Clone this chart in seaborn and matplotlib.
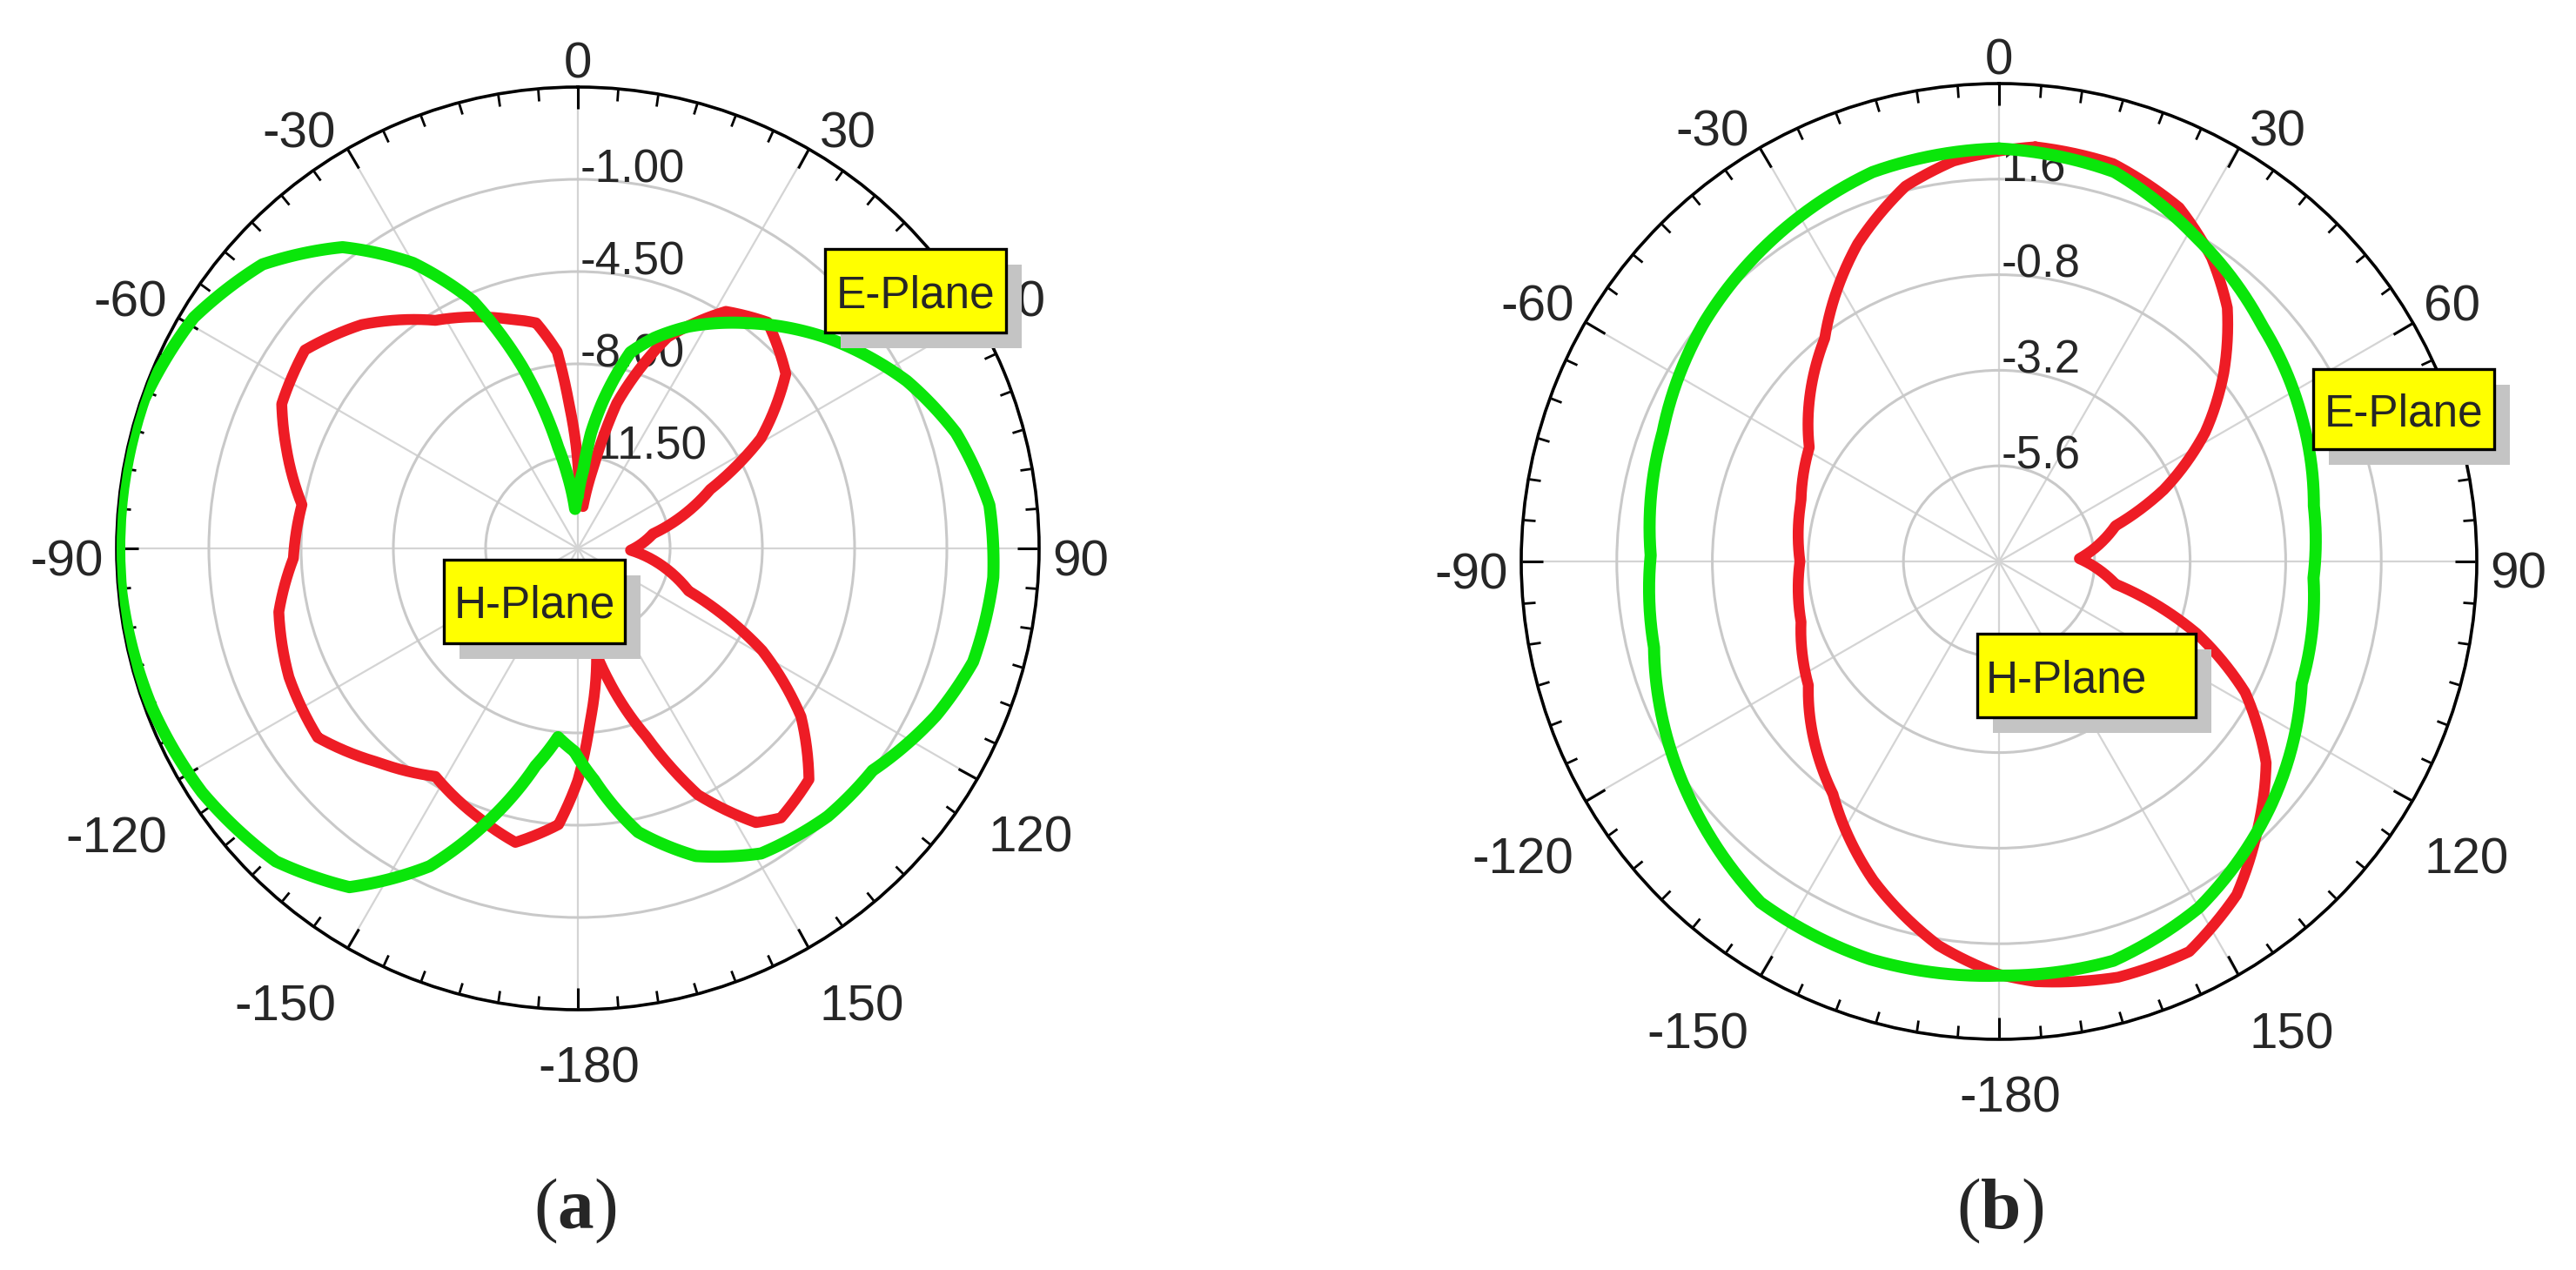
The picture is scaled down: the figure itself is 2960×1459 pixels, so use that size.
import numpy as np
import matplotlib
matplotlib.use("Agg")
import matplotlib.pyplot as plt
import matplotlib.transforms as mtransforms
from matplotlib.patches import Rectangle
import seaborn as sns

# ---------------- data (angle in deg, clockwise from top; level in dB) ----------------
# (a)
a_red_deg = [2, 7, 11, 15, 23, 32, 40, 50, 59, 66, 79, 92, 111, 119, 127, 135, 143, 147,
             154, 160, 167, 170, 176, 180, 184, 192, 200, 212, 223, 234, 246, 258, 268,
             279, 289, 296, 306, 316, 328, 343, 349.5, 354, 356.5, 359]
a_red_db = [-13.2, -13.4, -11.8, -9.3, -6.3, -4.4, -3.8, -4.7, -6.9, -9.5, -12.1, -13.0, -10.5,
            -7.0, -4.4, -2.6, -2.2, -2.6, -4.6, -7.4, -9.9, -10.9, -8.4, -6.2, -4.5, -3.6,
            -4.1, -4.8, -3.9, -2.8, -3.0, -3.4, -4.2, -4.4, -3.3, -2.5, -2.2, -3.2, -4.8,
            -5.9, -6.3, -7.5, -9.5, -11.1]

a_green_deg = [0, 4, 6.5, 9.5, 15, 20, 26.5, 37, 50, 63, 73, 84, 94, 106, 115, 127, 137, 149,
               159, 168, 176, 181, 186, 191, 198.5, 205, 214, 224, 237, 249.5, 264.5, 275,
               289, 301, 312, 322, 330, 337, 343, 349, 352, 356]
a_green_db = [-13.0, -12.0, -10.6, -9.4, -7.3, -6.5, -5.6, -4.3, -2.6, -1.0, 0.0, 0.7, 0.8,
              0.6, 0.0, -1.0, -1.1, -1.5, -2.5, -4.0, -6.2, -7.3, -7.8, -6.6, -4.0, -1.7,
              0.5, 1.5, 2.0, 2.25, 2.4, 2.4, 2.4, 2.0, 1.1, -0.5, -2.5, -4.8, -7.8, -11.1,
              -12.2, -13.5]

a_rings = [-11.5, -8.0, -4.5, -1.0, 2.5]
a_ring_labels = ["-11.50", "-8.00", "-4.50", "-1.00", ""]
a_rlim = (-15.0, 2.5)

# (b)
b_red_deg = [5, 16, 27, 35, 42, 50, 58, 66.5, 73, 88, 101, 110, 118, 127, 136, 144.5, 154,
             164, 175, 180, 189, 201.5, 215.5, 237, 253, 270, 287, 301, 322, 336, 346, 353.5]
b_red_db = [2.45, 2.39, 1.97, 1.31, 0.57, -0.63, -1.9, -3.49, -4.94, -5.98, -5.02, -2.72,
            -1.0, 0.4, 1.35, 2.28, 2.9, 2.86, 2.59, 2.37, 1.76, 0.61, -0.82, -2.29, -2.8,
            -3.0, -2.8, -2.44, -0.89, 0.73, 1.71, 2.12]

b_green_deg = [0, 16.5, 31, 48, 65, 80, 93, 112, 132, 150, 164, 180, 198, 215, 233, 256,
               271, 291, 309, 325, 342]
b_green_db = [2.37, 2.2, 1.54, 0.88, 0.41, 0.03, -0.09, 0.2, 1.18, 2.04, 2.43, 2.4, 2.5,
              2.45, 1.77, 0.93, 0.75, 1.05, 1.53, 1.89, 2.28]

b_rings = [-5.6, -3.2, -0.8, 1.6, 4.0]
b_ring_labels = ["-5.6", "-3.2", "-0.8", "1.6", ""]
b_rlim = (-8.0, 4.0)

angle_ticks = [0, 30, 60, 90, 120, 150, 180, 210, 240, 270, 300, 330]
angle_labels = ["0", "30", "60", "90", "120", "150", "-180", "-150", "-120", "-90", "-60", "-30"]

RED = "#ee1c25"
GREEN = "#0ae60a"

sns.set_style("white")
plt.rcParams["font.family"] = ["Liberation Sans", "DejaVu Sans"]
plt.rcParams["mathtext.fontset"] = "custom"
plt.rcParams["mathtext.rm"] = "Liberation Serif"
plt.rcParams["mathtext.bf"] = "Liberation Serif:bold"

W, H = 2960, 1459
fig = plt.figure(figsize=(W / 100, H / 100), dpi=100)


def shifted(ax, dx, dy):
    return mtransforms.offset_copy(ax.transData, fig=fig, x=dx, y=dy, units="dots")


def draw_pattern(ax, red_deg, red_db, green_deg, green_db, rings, ring_labels, rlim):
    ax.set_theta_zero_location("N")
    ax.set_theta_direction(-1)
    ax.set_axisbelow(True)

    # curves (closed loops)
    for deg, db, col, lw in [(red_deg, red_db, RED, 9), (green_deg, green_db, GREEN, 10)]:
        th = np.radians(np.append(deg, deg[0] + 360))
        r = np.append(db, db[0])
        sns.lineplot(x=th, y=r, ax=ax, sort=False, estimator=None, color=col,
                     linewidth=lw, zorder=4, solid_joinstyle="round")
        # draw segments along the polar grid (spiral) instead of straight chords
        ax.get_lines()[-1].get_path()._interpolation_steps = 40
    ax.set_ylim(*rlim)
    ax.set_xlabel("")
    ax.set_ylabel("")

    # grid
    ax.set_yticks(rings)
    ax.set_yticklabels([])
    ax.yaxis.grid(True, color="#c9c9c9", linewidth=2.2)
    ax.tick_params(axis="y", length=0)
    ax.set_xticks(np.radians(angle_ticks))
    ax.set_xticks(np.radians(np.arange(0, 360, 5)), minor=True)
    ax.set_xticklabels([])
    ax.xaxis.grid(True, which="major", color="#d4d4d4", linewidth=1.6)
    ax.xaxis.grid(False, which="minor")
    ax.tick_params(axis="x", which="both", top=True, bottom=False, direction="in",
                   color="black")
    ax.tick_params(axis="x", which="major", length=18, width=2.2)
    ax.tick_params(axis="x", which="minor", length=10, width=2.0)
    ax.spines["polar"].set_linewidth(2.6)
    ax.spines["polar"].set_color("black")

    # ring labels along the 0 deg spoke
    for val, lab in zip(rings, ring_labels):
        ax.text(0, val, lab, ha="left", va="baseline", fontsize=38, zorder=2,
                transform=shifted(ax, 3, -3))

    # angle labels around the rim
    rmax = rlim[1]
    for deg, lab in zip(angle_ticks, angle_labels):
        s, c = np.sin(np.radians(deg)), np.cos(np.radians(deg))
        ha = "left" if s > 0.1 else ("right" if s < -0.1 else "center")
        if c > 0.95:
            dx, dy = 0, 10
        elif c > 0.1:
            dx, dy = 13 * np.sign(s), 2
        elif c > -0.1:
            dx, dy = 15 * np.sign(s), -31
        else:
            dx, dy = 13 * np.sign(s), -84
        ax.text(np.radians(deg), rmax, lab, ha=ha, va="baseline", fontsize=42,
                transform=shifted(ax, dx, dy), clip_on=False)


ax_a = fig.add_axes([134 / W, 1 - 1160 / H, 1060 / W, 1060 / H], projection="polar")
draw_pattern(ax_a, a_red_deg, a_red_db, a_green_deg, a_green_db, a_rings, a_ring_labels, a_rlim)

ax_b = fig.add_axes([1748 / W, 1 - 1194 / H, 1098 / W, 1098 / H], projection="polar")
draw_pattern(ax_b, b_red_deg, b_red_db, b_green_deg, b_green_db, b_rings, b_ring_labels, b_rlim)

# label boxes: text, left, top, width, height (pixels), alignment
boxes = [
    ("E-Plane", 948, 286, 208, 96, "center"),
    ("H-Plane", 510, 643, 208, 96, "center"),
    ("E-Plane", 2658, 424, 208, 92, "center"),
    ("H-Plane", 2272, 728, 251, 96, "left"),
]
for txt, x0, y0, bw, bh, align in boxes:
    fig.add_artist(Rectangle(((x0 + 18) / W, 1 - (y0 + bh + 18) / H), bw / W, bh / H,
                             transform=fig.transFigure, facecolor="#c4c4c4",
                             edgecolor="none", zorder=5))
    fig.add_artist(Rectangle((x0 / W, 1 - (y0 + bh) / H), bw / W, bh / H,
                             transform=fig.transFigure, facecolor="#ffff00",
                             edgecolor="black", linewidth=2.4, zorder=6))
    tx = (x0 + bw / 2) / W if align == "center" else (x0 + 10) / W
    fig.text(tx, 1 - (y0 + bh / 2) / H, txt, ha=align, va="center_baseline",
             fontsize=37, zorder=7)

fig.text(661 / W, 1 - 1391 / H, r"$\mathrm{(}\mathbf{a}\mathrm{)}$", ha="center",
         va="center", fontsize=60)
fig.text(2298 / W, 1 - 1391 / H, r"$\mathrm{(}\mathbf{b}\mathrm{)}$", ha="center",
         va="center", fontsize=60)

fig.savefig("out.png", dpi=100, facecolor="white")
